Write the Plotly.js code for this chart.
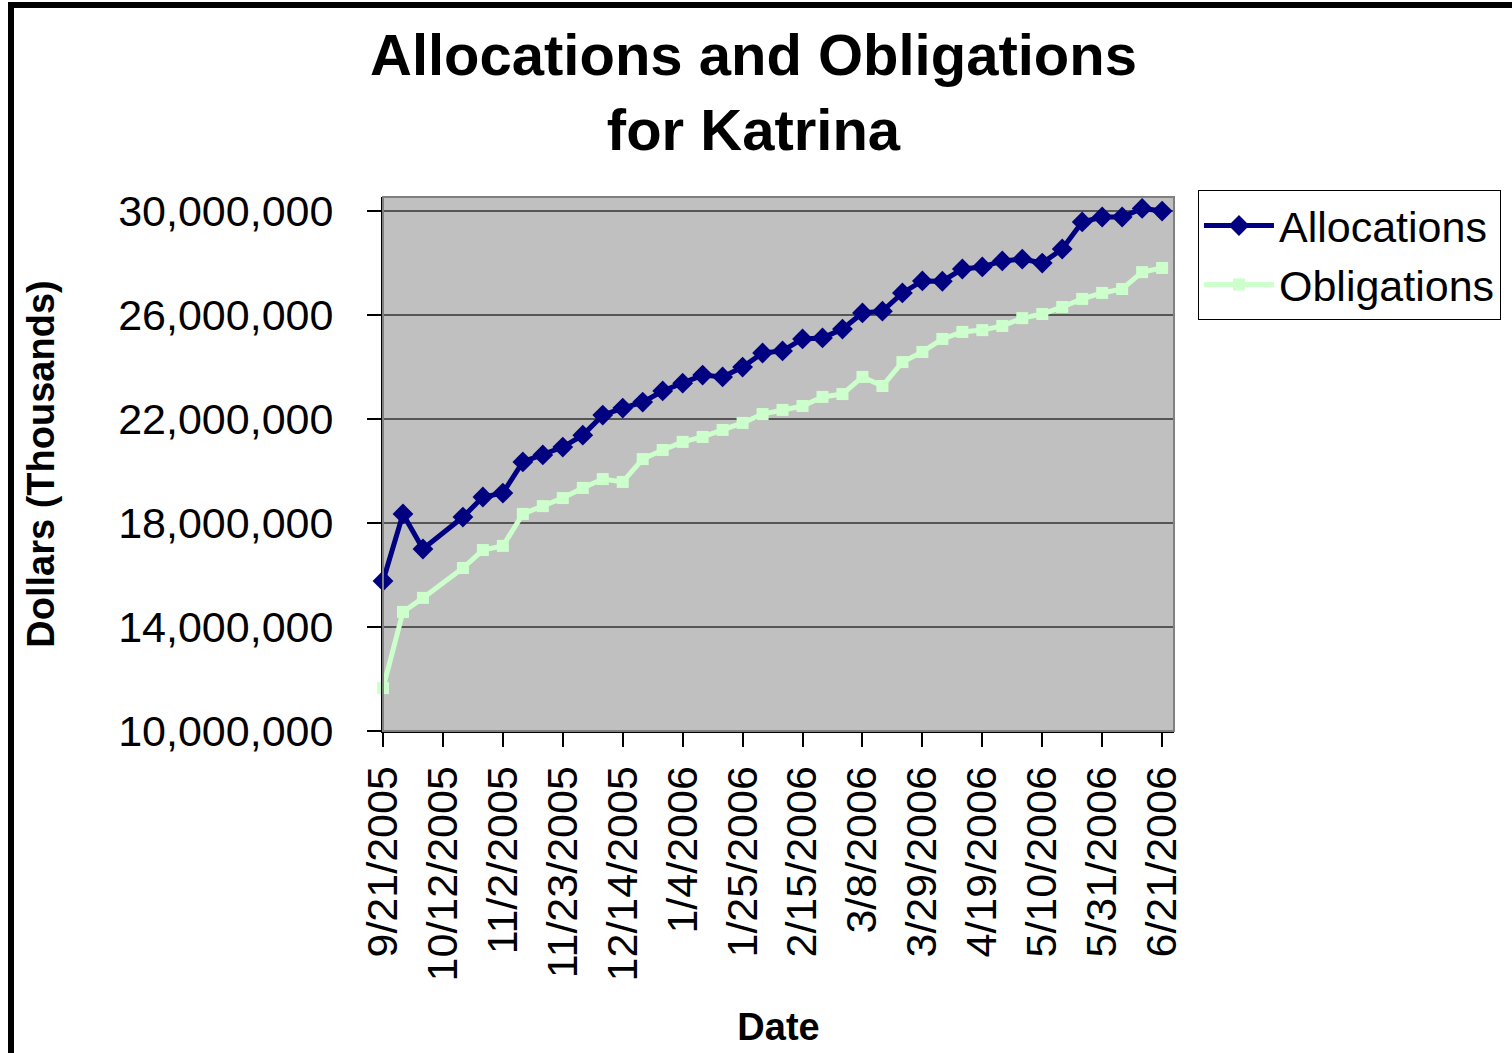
<!DOCTYPE html>
<html>
<head>
<meta charset="utf-8">
<script src="https://cdn.plot.ly/plotly-3.0.1.min.js"></script>
<style>
  html, body { margin: 0; padding: 0; background: #ffffff; overflow: hidden; }
  #chart { position: absolute; left: 0; top: 0; width: 1512px; height: 1053px; }
  #frame { position: absolute; left: 8px; top: 2px; width: 1700px; height: 1200px;
           border-left: 6px solid #000; border-top: 6px solid #000; pointer-events: none; }
</style>
</head>
<body>
<div id="chart"></div>
<div id="frame"></div>
<script>
// Weekly report dates (10/12/2005 has no report)
const dates = [
  '2005-09-21','2005-09-28','2005-10-05','2005-10-19','2005-10-26','2005-11-02',
  '2005-11-09','2005-11-16','2005-11-23','2005-11-30','2005-12-07','2005-12-14',
  '2005-12-21','2005-12-28','2006-01-04','2006-01-11','2006-01-18','2006-01-25',
  '2006-02-01','2006-02-08','2006-02-15','2006-02-22','2006-03-01','2006-03-08',
  '2006-03-15','2006-03-22','2006-03-29','2006-04-05','2006-04-12','2006-04-19',
  '2006-04-26','2006-05-03','2006-05-10','2006-05-17','2006-05-24','2006-05-31',
  '2006-06-07','2006-06-14','2006-06-21'
];
// Dollars (thousands)
const allocations = [
  15770000, 18350000, 17000000, 18230000, 19000000, 19150000,
  20350000, 20620000, 20920000, 21380000, 22150000, 22420000,
  22650000, 23080000, 23380000, 23690000, 23620000, 24000000,
  24540000, 24620000, 25080000, 25120000, 25460000, 26080000,
  26150000, 26850000, 27310000, 27300000, 27770000, 27850000,
  28080000, 28150000, 28000000, 28540000, 29580000, 29770000,
  29770000, 30100000, 30000000
];
const obligations = [
  11650000, 14580000, 15120000, 16270000, 16960000, 17120000,
  18350000, 18650000, 18960000, 19350000, 19690000, 19580000,
  20460000, 20810000, 21120000, 21310000, 21580000, 21850000,
  22190000, 22350000, 22500000, 22850000, 22960000, 23620000,
  23270000, 24190000, 24580000, 25080000, 25350000, 25420000,
  25580000, 25880000, 26040000, 26310000, 26620000, 26850000,
  27000000, 27650000, 27810000
];
// Axis ticks
const xTickVals = [
  '2005-09-21','2005-10-12','2005-11-02','2005-11-23','2005-12-14','2006-01-04',
  '2006-01-25','2006-02-15','2006-03-08','2006-03-29','2006-04-19','2006-05-10',
  '2006-05-31','2006-06-21'
];
const xTickText = [
  '9/21/2005','10/12/2005','11/2/2005','11/23/2005','12/14/2005','1/4/2006',
  '1/25/2006','2/15/2006','3/8/2006','3/29/2006','4/19/2006','5/10/2006',
  '5/31/2006','6/21/2006'
];
const yTickVals = [10000000, 14000000, 18000000, 22000000, 26000000, 30000000];
const yTickText = ['10,000,000','14,000,000','18,000,000','22,000,000','26,000,000','30,000,000'];

const FONT = 'Liberation Sans, Arial, sans-serif';

const traces = [
  {
    x: dates, y: allocations, name: 'Allocations', type: 'scatter', mode: 'lines+markers',
    line: { color: '#000080', width: 5 },
    marker: { symbol: 'diamond', size: 16, color: '#000080' },
    cliponaxis: false
  },
  {
    x: dates, y: obligations, name: 'Obligations', type: 'scatter', mode: 'lines+markers',
    line: { color: '#CCFFCC', width: 5 },
    marker: { symbol: 'square', size: 12, color: '#CCFFCC' },
    cliponaxis: false
  }
];

const layout = {
  width: 1512, height: 1053,
  margin: { l: 383, r: 337, t: 197, b: 322, pad: 0 },
  paper_bgcolor: '#ffffff',
  plot_bgcolor: '#C0C0C0',
  font: { family: FONT, color: '#000000' },
  annotations: [
    {
      text: '<b>Allocations and Obligations<br>for Katrina</b>',
      font: { family: FONT, size: 58, color: '#000000' },
      xref: 'paper', yref: 'paper', x: 0.468, y: 1.197,
      xanchor: 'center', yanchor: 'middle', showarrow: false, align: 'center'
    }
  ],
  xaxis: {
    type: 'date',
    range: ['2005-09-21', '2006-06-25 04:00'],
    tickmode: 'array', tickvals: xTickVals, ticktext: xTickText,
    tickangle: -90,
    tickfont: { family: FONT, size: 43, color: '#000000' },
    ticks: 'outside', ticklen: 14, tickwidth: 2, tickcolor: '#000000',
    ticklabelstandoff: 2,
    showgrid: false, zeroline: false,
    showline: true, linecolor: '#000000', linewidth: 2, mirror: false,
    title: { text: '<b>Date</b>', font: { family: FONT, size: 38, color: '#000000' }, standoff: 33 }
  },
  yaxis: {
    range: [10000000, 30540000],
    tickmode: 'array', tickvals: yTickVals, ticktext: yTickText,
    tickfont: { family: FONT, size: 43, color: '#000000' },
    ticks: 'outside', ticklen: 14, tickwidth: 2, tickcolor: '#000000',
    ticklabelstandoff: 25,
    showgrid: true, gridcolor: '#555555', gridwidth: 2,
    zeroline: false,
    showline: true, linecolor: '#000000', linewidth: 2,
    title: { text: '<b>Dollars (Thousands)</b>', font: { family: FONT, size: 38, color: '#000000' }, standoff: 52 }
  },
  shapes: [
    { type: 'rect', xref: 'paper', yref: 'paper', x0: 0, x1: 1, y0: 0, y1: 1,
      line: { color: '#808080', width: 2 }, fillcolor: 'rgba(0,0,0,0)', layer: 'above' }
  ],
  showlegend: true,
  legend: {
    x: 1.029, y: 1.013, xanchor: 'left', yanchor: 'top',
    bgcolor: '#ffffff', bordercolor: '#000000', borderwidth: 1,
    font: { family: FONT, size: 43, color: '#000000' },
    itemwidth: 70,
    tracegroupgap: 0
  }
};

Plotly.newPlot('chart', traces, layout, { displayModeBar: false, staticPlot: true });
</script>
</body>
</html>
